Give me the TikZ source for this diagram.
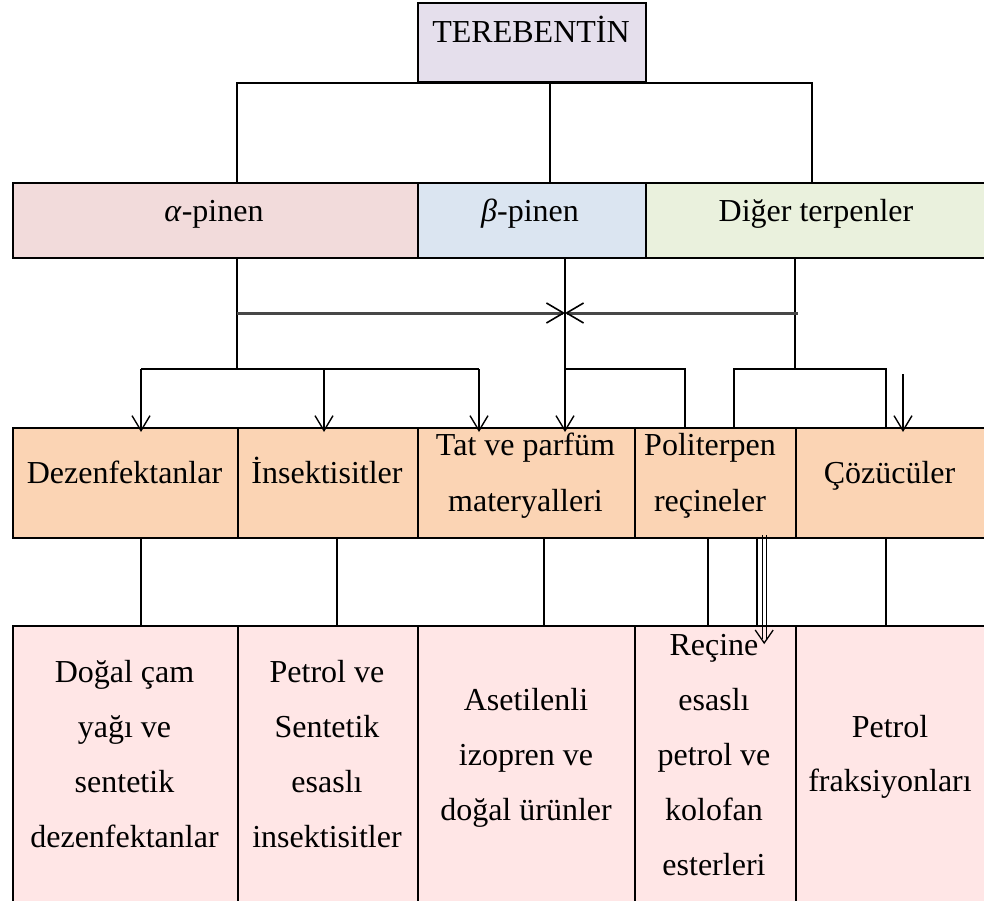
\documentclass[tikz,border=0pt]{standalone}
\usepackage{fontspec}
\setmainfont{Liberation Serif}
\usetikzlibrary{arrows.meta,calc}
\definecolor{cTop}{HTML}{E5DFEC}
\definecolor{cAlpha}{HTML}{F2DBDB}
\definecolor{cBeta}{HTML}{DBE5F1}
\definecolor{cOther}{HTML}{EAF1DD}
\definecolor{cUse}{HTML}{FBD4B4}
\definecolor{cSrc}{HTML}{FFE6E6}
\begin{document}
\begin{tikzpicture}[x=1pt,y=-1pt,
  box/.style={draw=black, line width=2pt, anchor=north west, inner sep=0pt},
  lbl/.style={anchor=base, inner sep=0pt, font=\fontsize{32}{38}\selectfont},
  conn/.style={draw=black, line width=1.6pt},
  arr/.style={conn, -{Straight Barb[length=15pt,width=18pt,line width=1.4pt]}, shorten >=-5pt},
  bus/.style={draw=black!72, line width=3pt, -{Straight Barb[length=17pt,width=20pt,line width=1.6pt,color=black]}},
  thinl/.style={draw=black, line width=0.9pt}]
\useasboundingbox (0,0) rectangle (984,901);
\clip (0,0) rectangle (984,901);
% boxes
\node[box, fill=cTop, minimum width=228pt, minimum height=79pt] (top) at (417,2) {};
\node[box, fill=cAlpha, minimum width=405pt, minimum height=75pt] (alpha) at (12,182) {};
\node[box, fill=cBeta, minimum width=228pt, minimum height=75pt] (beta) at (417,182) {};
\node[box, fill=cOther, minimum width=355pt, minimum height=75pt] (diger) at (645,182) {};
\node[box, fill=cUse, minimum width=225pt, minimum height=110pt] (d1) at (12,427) {};
\node[box, fill=cUse, minimum width=180pt, minimum height=110pt] (d2) at (237,427) {};
\node[box, fill=cUse, minimum width=217pt, minimum height=110pt] (d3) at (417,427) {};
\node[box, fill=cUse, minimum width=161pt, minimum height=110pt] (d4) at (634,427) {};
\node[box, fill=cUse, minimum width=205pt, minimum height=110pt] (d5) at (795,427) {};
\node[box, fill=cSrc, minimum width=225pt, minimum height=300pt] (e1) at (12,625) {};
\node[box, fill=cSrc, minimum width=180pt, minimum height=300pt] (e2) at (237,625) {};
\node[box, fill=cSrc, minimum width=217pt, minimum height=300pt] (e3) at (417,625) {};
\node[box, fill=cSrc, minimum width=161pt, minimum height=300pt] (e4) at (634,625) {};
\node[box, fill=cSrc, minimum width=205pt, minimum height=300pt] (e5) at (795,625) {};
% labels
\node[lbl] (tTop) at (531,43) {TEREBENTİN};
\node[lbl] (tA) at (214,222) {\textit{α}-pinen};
\node[lbl] (tB) at (530,222) {\textit{β}-pinen};
\node[lbl] (tC) at (816,222) {Diğer terpenler};
\node[lbl] (u1) at (124.5,483) {Dezenfektanlar};
\node[lbl] (u2) at (327,483) {İnsektisitler};
\node[lbl] (u3a) at (525.5,455) {Tat ve parfüm};
\node[lbl] (u3b) at (525.5,511) {materyalleri};
\node[lbl] (u4a) at (710,455) {Politerpen};
\node[lbl] (u4b) at (710,511) {reçineler};
\node[lbl] (u5) at (889.5,483) {Çözücüler};
\node[lbl] (s1a) at (124.5,682) {Doğal çam};
\node[lbl] (s1b) at (124.5,737) {yağı ve};
\node[lbl] (s1c) at (124.5,792) {sentetik};
\node[lbl] (s1d) at (124.5,847) {dezenfektanlar};
\node[lbl] (s2a) at (327,682) {Petrol ve};
\node[lbl] (s2b) at (327,737) {Sentetik};
\node[lbl] (s2c) at (327,792) {esaslı};
\node[lbl] (s2d) at (327,847) {insektisitler};
\node[lbl] (s3a) at (526,710) {Asetilenli};
\node[lbl] (s3b) at (526,765) {izopren ve};
\node[lbl] (s3c) at (526,820) {doğal ürünler};
\node[lbl] (s4a) at (714,655) {Reçine};
\node[lbl] (s4b) at (714,710) {esaslı};
\node[lbl] (s4c) at (714,765) {petrol ve};
\node[lbl] (s4d) at (714,820) {kolofan};
\node[lbl] (s4e) at (714,875) {esterleri};
\node[lbl] (s5a) at (890,737) {Petrol};
\node[lbl] (s5b) at (890,791) {fraksiyonları};
% helper coordinates
\coordinate (p1) at (237,0); \coordinate (r2) at (550,0); \coordinate (r3) at (812,0);
\coordinate (p2) at (565,0); \coordinate (p3) at (795,0);
\coordinate (q1) at (141,0); \coordinate (q2) at (324,0); \coordinate (q3) at (479,0);
\coordinate (q4) at (685,0); \coordinate (q5) at (734,0); \coordinate (q6) at (886,0);
\coordinate (q7) at (903,0); \coordinate (s7) at (903,374);
\coordinate (yb) at (0,313); \coordinate (ya) at (0,369); \coordinate (busR) at (798,313);
\coordinate (xa) at (141,0); \coordinate (xb) at (337,0); \coordinate (xc) at (544,0);
\coordinate (xd) at (708,0); \coordinate (xe) at (757,0); \coordinate (xf) at (886,0);
\coordinate (dl) at (762,535); \coordinate (dr) at (766.5,535);
\coordinate (dtip) at (764.2,643);
% top connectors
\draw[conn] (p1 |- alpha.north) |- (r3 |- top.south) -- (r3 |- diger.north);
\draw[conn] (r2 |- top.south) -- (r2 |- beta.north);
% middle connectors
\draw[conn] (p1 |- alpha.south) -- (p1 |- ya);
\draw[conn] (p3 |- diger.south) -- (p3 |- ya);
\draw[bus] (p1 |- yb) -- (p2 |- yb);
\draw[bus] (busR) -- (p2 |- yb);
\draw[conn] (q1 |- ya) -- (q3 |- ya);
\draw[arr] (q1 |- ya) -- (q1 |- d1.north);
\draw[arr] (q2 |- ya) -- (q2 |- d2.north);
\draw[arr] (q3 |- ya) -- (q3 |- d3.north);
\draw[arr] (p2 |- beta.south) -- (p2 |- d3.north);
\draw[conn] (p2 |- ya) -| (q4 |- d4.north);
\draw[conn] (q5 |- d4.north) |- (q6 |- ya) -- (q6 |- d5.north);
\draw[arr] (s7) -- (q7 |- d5.north);
% lower connectors
\draw[conn] (xa |- d1.south) -- (xa |- e1.north);
\draw[conn] (xb |- d2.south) -- (xb |- e2.north);
\draw[conn] (xc |- d3.south) -- (xc |- e3.north);
\draw[conn] (xd |- d4.south) -- (xd |- e4.north);
\draw[conn] (xe |- d4.south) -- (xe |- e4.north);
\draw[conn] (xf |- d5.south) -- (xf |- e5.north);
% double arrow
\draw[thinl] (dl) -- ($(dl |- dtip)+(0,-4)$);
\draw[thinl] (dr) -- ($(dr |- dtip)+(0,-4)$);
\draw[thinl, line width=1.3pt] ($(dtip)+(-9,-13)$) -- (dtip) -- ($(dtip)+(9,-13)$);
\end{tikzpicture}
\end{document}
